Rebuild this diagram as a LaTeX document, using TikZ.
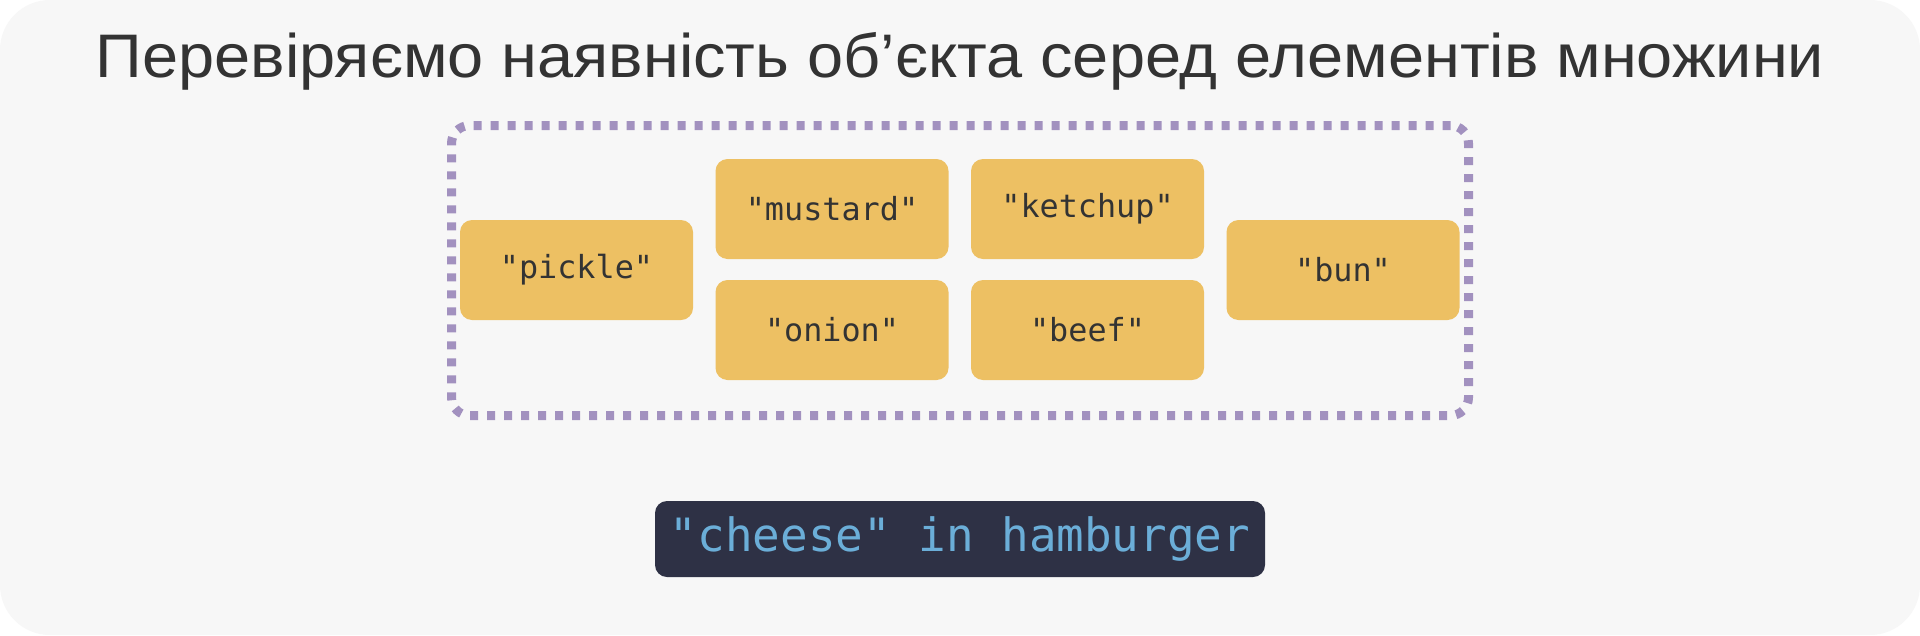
\documentclass[tikz,border=0pt]{standalone}
\usepackage{fontspec}
\setmainfont{Liberation Sans}
\newfontfamily\titlefont[FakeStretch=1.055]{Liberation Sans}
\newfontfamily\codefont{DejaVu Sans Mono}
\definecolor{bgc}{HTML}{F7F7F7}
\definecolor{titlec}{HTML}{333333}
\definecolor{itemc}{HTML}{EDC063}
\definecolor{setc}{HTML}{A291BF}
\definecolor{codebg}{HTML}{2E3145}
\definecolor{codefg}{HTML}{6BAED8}
\tikzset{
  itembox/.style={fill=itemc, rounded corners=12pt, minimum width=233pt, minimum height=100pt,
    inner sep=0pt, text=titlec, font=\codefont\fontsize{31.8}{38}\selectfont},
  setbox/.style={draw=setc, line width=9pt, dash pattern=on 8pt off 9pt, rounded corners=18pt,
    minimum width=1017pt, minimum height=290pt, inner sep=0pt},
  codebox/.style={fill=codebg, rounded corners=12pt, minimum width=610pt, minimum height=76pt,
    inner sep=0pt, text=codefg, font=\codefont\fontsize{45.9}{52}\selectfont},
  titletext/.style={text=titlec, font=\titlefont\fontsize{61.5}{70}\selectfont, inner sep=0pt, anchor=base}
}
\begin{document}
\begin{tikzpicture}[x=1pt,y=-1pt]
  \fill[white] (0,0) rectangle (1920,635);
  \useasboundingbox (0,0) rectangle (1920,635);
  \fill[bgc, rounded corners=50pt] (0,0) rectangle (1920,635);
  \node[titletext] (title) at (960,77) {Перевіряємо наявність об’єкта серед елементів множини};
  \node[setbox] (set) at (960,270.5) {};
  \node[itembox] (pickle) at (576.5,270) {"pickle"};
  \node[itembox] (mustard) at (832,209) {"mustard"};
  \node[itembox] (ketchup) at (1087.5,209) {"ketchup"};
  \node[itembox] (onion) at (832,330) {"onion"};
  \node[itembox] (beef) at (1087.5,330) {"beef"};
  \node[itembox] (bun) at (1343,270) {"bun"};
  \node[codebox] (code) at (960,539) {"cheese" in hamburger};
\end{tikzpicture}
\end{document}
